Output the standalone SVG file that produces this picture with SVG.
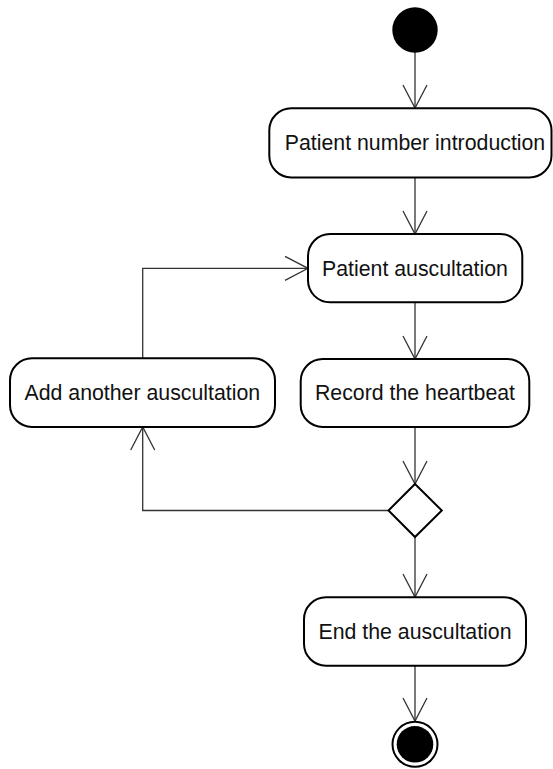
<svg xmlns="http://www.w3.org/2000/svg" width="553" height="769" viewBox="0 0 553 769">
  <defs>
    <!-- open V arrowhead used on every control flow -->
    <marker id="open-arrow" markerUnits="userSpaceOnUse" orient="auto" refX="0" refY="0"
            markerWidth="30" markerHeight="30" viewBox="-26 -15 30 30" overflow="visible">
      <path d="M -23 -12 L 0 0 L -23 12" fill="none" stroke="#333" stroke-width="1.3"/>
    </marker>
  </defs>
  <style>
    .action rect { fill: #fff; stroke: #000; stroke-width: 2; }
    .action text { font-family: "Liberation Sans", Arial, sans-serif; font-size: 21.3px; fill: #111; text-anchor: middle; }
    .flow { fill: none; stroke: #333; stroke-width: 1.3; marker-end: url(#open-arrow); }
    .decision { fill: #fff; stroke: #000; stroke-width: 2; }
  </style>
  <rect width="553" height="769" fill="#fff"/>

  <!-- control flows -->
  <g id="connectors">
    <path class="flow" d="M 415 52 L 415 108"/>
    <path class="flow" d="M 415 177 L 415 234"/>
    <path class="flow" d="M 415 302 L 415 359"/>
    <path class="flow" d="M 415 427 L 415 484"/>
    <path class="flow" d="M 415 537 L 415 597"/>
    <path class="flow" d="M 415 666 L 415 721"/>
    <path class="flow" d="M 388.5 510.5 L 142.7 510.5 L 142.7 427"/>
    <path class="flow" d="M 142.7 358 L 142.7 268.3 L 308 268.3"/>
  </g>

  <!-- initial node -->
  <g id="start">
    <circle cx="415" cy="30" r="22.7" fill="#000"/>
  </g>

  <g id="patient-number" class="action">
    <rect x="269.3" y="108.3" width="282.2" height="69.2" rx="22" ry="22"/>
    <text x="415" y="150">Patient number introduction</text>
  </g>

  <g id="patient-auscultation" class="action">
    <rect x="308" y="234" width="214.3" height="68.3" rx="22" ry="22"/>
    <text x="415" y="276">Patient auscultation</text>
  </g>

  <g id="add-auscultation" class="action">
    <rect x="10" y="358.3" width="265" height="68.7" rx="22" ry="22"/>
    <text x="142.3" y="400">Add another auscultation</text>
  </g>

  <g id="record-heartbeat" class="action">
    <rect x="300.7" y="359" width="228.6" height="68" rx="22" ry="22"/>
    <text x="415" y="400">Record the heartbeat</text>
  </g>

  <!-- decision node -->
  <g id="decision">
    <polygon class="decision" points="415,484 441.8,510.5 415,537 388.5,510.5"/>
  </g>

  <g id="end-auscultation" class="action">
    <rect x="304" y="597.3" width="222" height="68.4" rx="22" ry="22"/>
    <text x="415" y="639">End the auscultation</text>
  </g>

  <!-- final node -->
  <g id="end">
    <circle cx="415" cy="744.3" r="22.5" fill="#fff" stroke="#000" stroke-width="2"/>
    <circle cx="415" cy="744.3" r="18.3" fill="#000"/>
  </g>
</svg>
